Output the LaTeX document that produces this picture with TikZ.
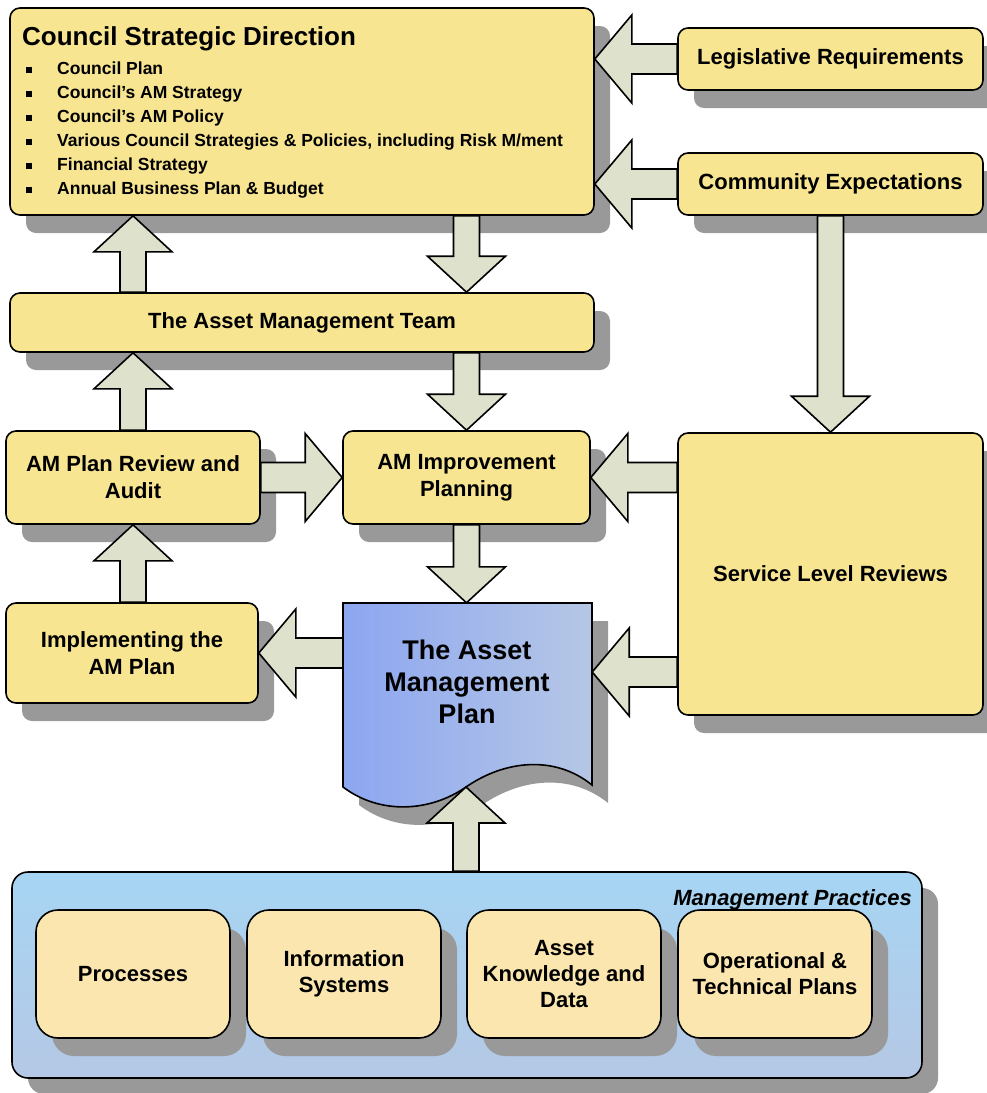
\documentclass[tikz,border=0pt]{standalone}
\usepackage{fontspec}
\setmainfont{Liberation Sans}
\usetikzlibrary{calc, shadows, positioning}

\definecolor{boxyellow}{HTML}{F7E591}
\definecolor{paleyellow}{HTML}{FAE6AE}
\definecolor{arrowgreen}{HTML}{DEE1CB}
\definecolor{shadowgray}{HTML}{999999}
\definecolor{paneltop}{HTML}{A6D5F3}
\definecolor{panelbottom}{HTML}{B5C8E5}
\definecolor{planleft}{HTML}{8CA6F1}
\definecolor{planright}{HTML}{B6C7E5}

\newcommand\boxfont{\fontsize{22}{27}\selectfont\bfseries}

\tikzset{
  shadowed/.style={drop shadow={shadow xshift=16pt, shadow yshift=-18pt, fill=shadowgray, opacity=1}},
  box/.style={draw, line width=1.6pt, rounded corners=10pt, fill=boxyellow, inner sep=0pt, align=center, font=\boxfont, shadowed},
  practice/.style={box, fill=paleyellow, rounded corners=22pt, minimum width=194pt, minimum height=128pt, font=\fontsize{22}{26}\selectfont\bfseries},
  blockarrow/.style={draw, line width=1.6pt, fill=arrowgreen, line join=miter,
    to path={let \p1=($(\tikztotarget)!\headlen!(\tikztostart)$) in
      ($(\tikztostart)!\shaftw!90:(\tikztotarget)$) -- ($(\p1)!\shaftw!90:(\tikztotarget)$)
      -- ($(\p1)!\headw!90:(\tikztotarget)$) -- (\tikztotarget)
      -- ($(\p1)!\headw!-90:(\tikztotarget)$) -- ($(\p1)!\shaftw!-90:(\tikztotarget)$)
      -- ($(\tikztostart)!\shaftw!-90:(\tikztotarget)$) -- cycle}},
  harrow/.style={blockarrow, /utils/exec={\def\shaftw{15pt}\def\headw{44pt}\def\headlen{37pt}}},
  varrow/.style={blockarrow, /utils/exec={\def\shaftw{13pt}\def\headw{39pt}\def\headlen{36pt}}},
}

\begin{document}
\begin{tikzpicture}[x=1pt, y=-1pt]
\useasboundingbox (0,0) rectangle (987,1093);

\node[box, minimum width=584pt, minimum height=207pt] (council) at (302,111.5) {};
\node[anchor=base west, inner sep=0pt, font=\fontsize{26}{30}\selectfont\bfseries] (councilhead) at (22,45) {Council Strategic Direction};
\foreach \txt [count=\i] in {Council Plan, Council's AM Strategy, Council's AM Policy, {Various Council Strategies \& Policies, including Risk M/ment}, Financial Strategy, Annual Business Plan \& Budget} {
  \fill (26,42.5+24*\i) rectangle +(5.5,6);
  \node[anchor=base west, inner sep=0pt, font=\fontsize{17.5}{20}\selectfont\bfseries] (item\i) at (57,50+24*\i) {\txt};
}

\node[box, minimum width=305pt, minimum height=62pt] (legis) at (830.5,59) {Legislative Requirements};
\node[box, minimum width=305pt, minimum height=62pt] (community) at (830.5,184) {Community Expectations};
\node[box, minimum width=584pt, minimum height=59pt] (team) at (302,322.5) {The Asset Management Team};
\node[box, minimum width=254pt, minimum height=93pt] (review) at (133,477.5) {AM Plan Review and\\Audit};
\node[box, minimum width=247pt, minimum height=93pt] (improve) at (466.5,477.5) {AM Improvement\\Planning};
\node[box, minimum width=305pt, minimum height=282pt] (service) at (830.5,574) {Service Level Reviews};
\node[box, minimum width=252pt, minimum height=100pt] (implement) at (132,653) {Implementing the\\AM Plan};

\fill[shadowgray, shift={(16pt,-18pt)}] (343,603) -- (592,603) -- (592,785) .. controls (555,755) and (505,760) .. (466,787) .. controls (430,812) and (380,815) .. (343,787) -- cycle;
\draw[line width=1.6pt, left color=planleft, right color=planright] (343,603) -- (592,603) -- (592,785) .. controls (555,755) and (505,760) .. (466,787) .. controls (430,812) and (380,815) .. (343,787) -- cycle;
\node[minimum width=249pt, minimum height=184pt, inner sep=0pt] (plan) at (467.5,695) {};
\node[align=center, font=\fontsize{27}{32}\selectfont\bfseries] (plantext) at (467,682) {The Asset\\Management\\Plan};
\coordinate (plandip) at (466,787);

\node[draw, line width=1.6pt, rounded corners=16pt, top color=paneltop, bottom color=panelbottom, minimum width=910pt, minimum height=206pt, inner sep=0pt, drop shadow={shadow xshift=16pt, shadow yshift=-16pt, fill=shadowgray, opacity=1}] (practices) at (467,975) {};
\node[anchor=base east, inner sep=0pt, font=\fontsize{22}{26}\selectfont\bfseries\itshape] (mptitle) at (912,905) {Management Practices};
\node[practice] (processes) at (133,974) {Processes};
\node[practice] (infosys) at (344,974) {Information\\Systems};
\node[practice] (knowledge) at (564,974) {Asset\\Knowledge and\\Data};
\node[practice] (optech) at (775,974) {Operational \&\\Technical Plans};

\draw[harrow] (legis.west) to (legis.west -| council.east);
\draw[harrow] (community.west) to (community.west -| council.east);
\draw[varrow] (team.north -| review.north) to (council.south -| review.north);
\draw[varrow] (council.south -| improve.north) to (team.north -| improve.north);
\draw[varrow] (team.south -| improve.north) to (improve.north);
\draw[varrow] (review.north) to (team.south -| review.north);
\draw[harrow] (review.east) to (improve.west);
\draw[varrow] (community.south) to (service.north);
\draw[harrow] (service.west |- improve.east) to (improve.east);
\draw[harrow] ($(service.west |- plan.east)+(0,-23)$) to ($(plan.east)+(0,-23)$);
\draw[varrow] (improve.south) to (plan.north -| improve.south);
\draw[harrow] (plan.west |- implement.east) to (implement.east);
\draw[varrow] (implement.north -| review.south) to (review.south);
\draw[varrow] (practices.north -| plandip) to (plandip);
\end{tikzpicture}
\end{document}
